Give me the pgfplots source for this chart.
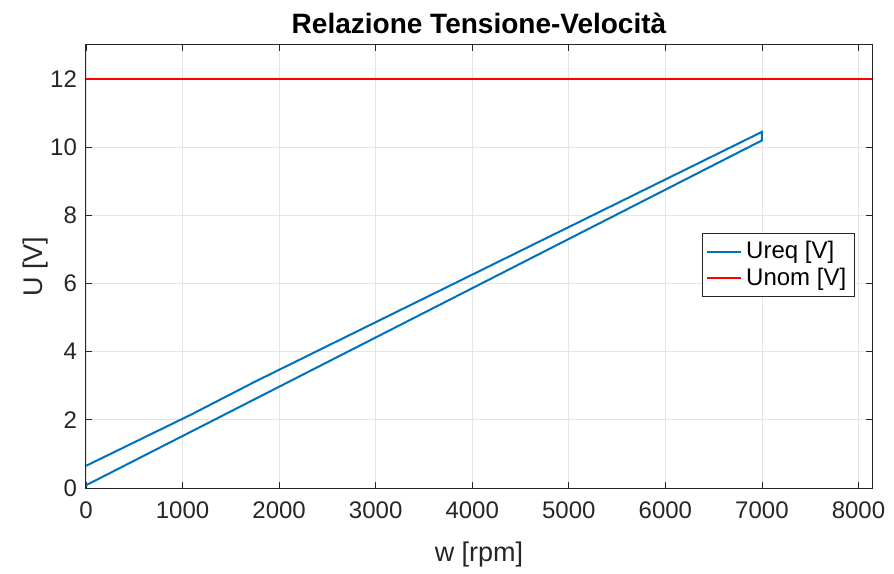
\documentclass[border=0pt]{standalone}
\usepackage{pgfplots}
\pgfplotsset{compat=1.18}
\usepackage{fontspec}
\setmainfont{Liberation Sans}
\definecolor{mblue}{RGB}{0,114,189}
\definecolor{axgray}{RGB}{38,38,38}
\begin{document}
\begin{tikzpicture}
\useasboundingbox (-43pt,-42.5pt) rectangle (404pt,244pt);
\begin{axis}[
  scale only axis,
  width=393pt, height=221.5pt,
  at={(0,0)}, anchor=south west,
  xmin=0, xmax=8140, ymin=0, ymax=13,
  xtick={0,1000,...,8000}, ytick={0,2,...,12},
  scaled x ticks=false,
  /pgf/number format/assume math mode=true,
  /pgf/number format/1000 sep={},
  tick label style={font=\fontsize{12}{14}\selectfont, text=axgray},
  xticklabel style={yshift=-3.5pt},
  yticklabel style={xshift=-1pt},
  grid=major,
  major grid style={draw=black!10, line width=0.4pt},
  axis line style={draw=axgray, line width=0.5pt},
  tick style={draw=axgray, line width=0.4pt},
  tick align=inside,
  major tick length=3pt,
  title={\textbf{Relazione Tensione-Velocità}},
  title style={font=\fontsize{14}{16}\selectfont, yshift=-4pt},
  xlabel={w [rpm]}, ylabel={U [V]},
  label style={font=\fontsize{13.5}{15}\selectfont, text=axgray},
  xlabel style={yshift=-4.5pt},
  ylabel style={yshift=-6pt},
  legend style={at={(0.978,0.576)}, anchor=north east, draw=axgray, line width=0.5pt,
    font=\fontsize{12}{13.5}\selectfont, row sep=-1pt, inner sep=2pt},
  legend cell align=left,
]
\addplot[mblue, line width=1pt] coordinates {
  (0,0.08) (7000,10.2) (7000,10.45) (1750,3.12) (1100,2.17) (0,0.65)
};
\addlegendentry{Ureq [V]}
\addplot[red, line width=1pt] coordinates {(0,12) (8140,12)};
\addlegendentry{Unom [V]}
\end{axis}
\end{tikzpicture}
\end{document}
